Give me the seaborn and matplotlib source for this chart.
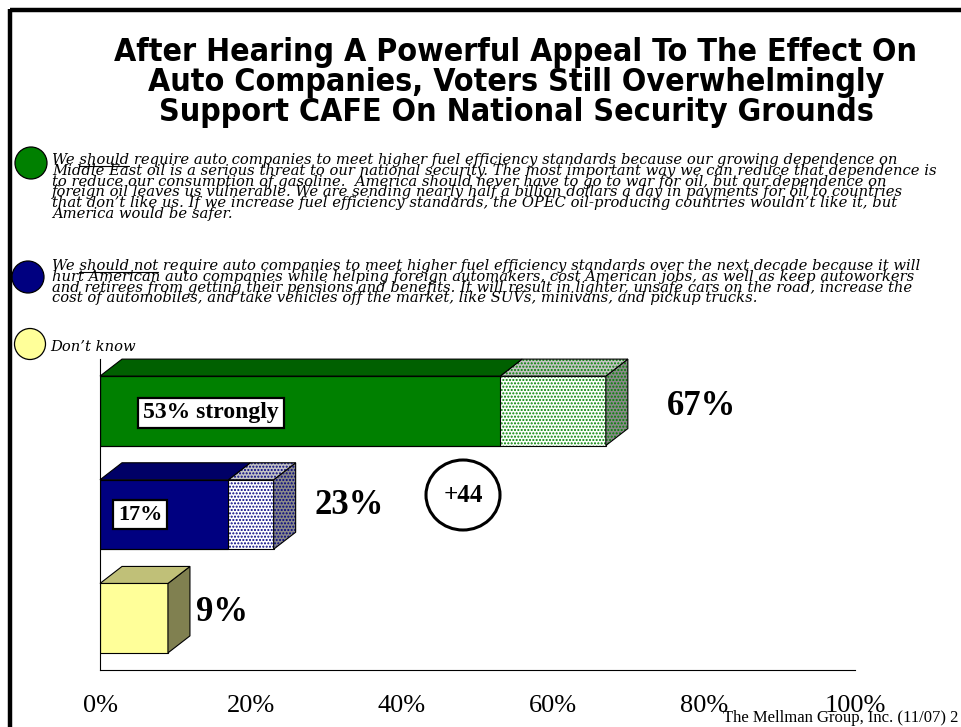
import matplotlib
matplotlib.use("Agg")
import matplotlib.pyplot as plt
import seaborn as sns
import pandas as pd
import numpy as np
from matplotlib.patches import Polygon, Rectangle, Ellipse
from matplotlib.lines import Line2D
from matplotlib.font_manager import FontProperties

# ---------------- data ----------------
categories = ["Should", "Should not", "Don't know"]
total_pct = [67, 23, 9]
strong_pct = [53, 17, np.nan]
value_labels = ["67%", "23%", "9%"]
strong_labels = ["53% strongly", "17%"]
margin_label = "+44"
x_ticks = [0, 20, 40, 60, 80, 100]
x_tick_labels = ["0%", "20%", "40%", "60%", "80%", "100%"]

title_lines = [
    "After Hearing A Powerful Appeal To The Effect On",
    "Auto Companies, Voters Still Overwhelmingly",
    "Support CAFE On National Security Grounds",
]
para1 = [
    "We should require auto companies to meet higher fuel efficiency standards because our growing dependence on",
    "Middle East oil is a serious threat to our national security. The most important way we can reduce that dependence is",
    "to reduce our consumption of gasoline.  America should never have to go to war for oil, but our dependence on",
    "foreign oil leaves us vulnerable. We are sending nearly half a billion dollars a day in payments for oil to countries",
    "that don\u2019t like us. If we increase fuel efficiency standards, the OPEC oil-producing countries wouldn\u2019t like it, but",
    "America would be safer.",
]
para2 = [
    "We should not require auto companies to meet higher fuel efficiency standards over the next decade because it will",
    "hurt American auto companies while helping foreign automakers, cost American jobs, as well as keep autoworkers",
    "and retirees from getting their pensions and benefits. It will result in lighter, unsafe cars on the road, increase the",
    "cost of automobiles, and take vehicles off the market, like SUVs, minivans, and pickup trucks.",
]
dont_know_text = "Don\u2019t know"
underlined = ["should", "should not"]
footer = "The Mellman Group, Inc. (11/07) 2"

# ---------------- style ----------------
solid_colors = ["#008000", "#000080", "#FFFF99"]
solid_top = ["#006000", "#000066", "#C0C078"]
solid_side = ["#004800", "#00004C", "#808050"]
dot_colors = ["#008000", "#000080"]
legend_colors = ["#008000", "#000080", "#FFFF99"]

W, H = 962, 727
sns.set_style("white")
plt.rcParams.update({
    "text.color": "black",
    "axes.labelcolor": "black",
    "xtick.color": "black",
    "ytick.color": "black",
    "hatch.linewidth": 1.0,
})
fig = plt.figure(figsize=(W / 100, H / 100), dpi=100)
fig.patch.set_facecolor("white")
renderer = fig.canvas.get_renderer()


def fx(x):
    return x / W


def fy(y):
    return 1 - y / H


def text_width(s, prop):
    w, h, d = renderer.get_text_width_height_descent(s, prop, ismath=False)
    return w


# page border (top and left)
fig.add_artist(Line2D([fx(10), 1.0], [fy(10), fy(10)], transform=fig.transFigure,
                      color="black", lw=3.2, solid_capstyle="butt"))
fig.add_artist(Line2D([fx(10), fx(10)], [fy(8.5), 0.0], transform=fig.transFigure,
                      color="black", lw=3.2, solid_capstyle="butt"))

# title
tprop = FontProperties(family="DejaVu Sans", weight="bold", stretch="condensed", size=10)
tsize = 10 * 803 / text_width(title_lines[0], tprop)
for i, line in enumerate(title_lines):
    fig.text(fx(516), fy(53 + i * 29.5), line, ha="center", va="center",
             fontfamily="DejaVu Sans", fontweight="bold", fontstretch="condensed",
             fontsize=tsize, color="black")

# body paragraphs
BODY_FONT = "DejaVu Serif"
bprop = FontProperties(family=BODY_FONT, style="italic", size=10)
bsize = 10 * 881 / text_width(para1[1], bprop)
x_text = 52
line_gap = 10.8


def draw_para(lines, y0, word):
    for i, line in enumerate(lines):
        y = y0 + i * line_gap
        fig.text(fx(x_text), fy(y), line, ha="left", va="baseline",
                 fontfamily=BODY_FONT, fontstyle="italic", fontsize=bsize)
        if i == 0:
            t_pre = fig.text(fx(x_text), fy(y), "We " + word, ha="left", va="baseline",
                             fontfamily=BODY_FONT, fontstyle="italic", fontsize=bsize,
                             alpha=0)
            t_word = fig.text(fx(x_text), fy(y), word, ha="left", va="baseline",
                              fontfamily=BODY_FONT, fontstyle="italic", fontsize=bsize,
                              alpha=0)
            e_pre = t_pre.get_window_extent(renderer)
            e_word = t_word.get_window_extent(renderer)
            t_pre.remove()
            t_word.remove()
            x1 = e_pre.x1
            x0 = x1 - e_word.width
            fig.add_artist(Line2D([x0 / W, x1 / W], [fy(y + 1.8), fy(y + 1.8)],
                                  transform=fig.transFigure, color="black", lw=0.8))


draw_para(para1, 164, underlined[0])
draw_para(para2, 270, underlined[1])
fig.text(fx(50), fy(351), dont_know_text, ha="left", va="baseline",
         fontfamily=BODY_FONT, fontstyle="italic", fontsize=bsize)

# legend circles
for (cx, cy, r), col in zip([(31, 163, 16), (28, 277, 16), (30, 344, 15.5)], legend_colors):
    fig.add_artist(Ellipse((fx(cx), fy(cy)), width=2 * r / W, height=2 * r / H,
                           transform=fig.transFigure, facecolor=col,
                           edgecolor="black", lw=0.9))

# footer
fig.text(fx(958), fy(722), footer, ha="right", va="baseline",
         fontfamily="Liberation Serif", fontsize=12)

# ---------------- chart ----------------
ax = fig.add_axes([fx(100), fy(670), 755 / W, 311 / H])
df = pd.DataFrame({"category": categories, "total": total_pct, "strong": strong_pct})
bar_h = 0.67

n0 = len(ax.patches)
sns.barplot(data=df, x="total", y="category", order=categories, orient="h",
            width=bar_h, color="white", ax=ax, errorbar=None)
total_patches = ax.patches[n0:]
n1 = len(ax.patches)
sns.barplot(data=df.dropna(), x="strong", y="category", order=categories, orient="h",
            width=bar_h, color="white", ax=ax, errorbar=None)
strong_patches = ax.patches[n1:]

ax.set_xlim(0, 100)
ax.set_ylim(2.5, -0.5)

# depth in data units
px_per_x = 755 / 100
px_per_y = 311 / 3
dx = 22 / px_per_x
dy = 17 / px_per_y

outline = dict(edgecolor="black", lw=0.8)

for i, p in enumerate(total_patches):
    x1 = p.get_x() + p.get_width()
    yt = p.get_y()
    yb = p.get_y() + p.get_height()
    dotted = i < 2
    if dotted:
        p.set_facecolor("#FAFFFA" if i == 0 else "white")
        p.set_edgecolor(dot_colors[i])
        p.set_hatch(".....")
        p.set_linewidth(0)
        ax.add_patch(Rectangle((p.get_x(), yt), p.get_width(), p.get_height(),
                               fill=False, **outline))
    else:
        p.set_facecolor(solid_colors[i])
        p.set_edgecolor("black")
        p.set_linewidth(0.8)
    side = [(x1, yt), (x1 + dx, yt - dy), (x1 + dx, yb - dy), (x1, yb)]
    if dotted:
        ax.add_patch(Polygon(side, closed=True, facecolor="#8A8A8A",
                             edgecolor=dot_colors[i], hatch=".....", lw=0, clip_on=False))
        ax.add_patch(Polygon(side, closed=True, fill=False, clip_on=False, **outline))
        x0 = strong_pct[i]
        top = [(x0, yt), (x1, yt), (x1 + dx, yt - dy), (x0 + dx, yt - dy)]
        ax.add_patch(Polygon(top, closed=True, facecolor="#C4C4C4",
                             edgecolor=dot_colors[i], hatch=".....", lw=0, clip_on=False))
        ax.add_patch(Polygon(top, closed=True, fill=False, clip_on=False, **outline))
    else:
        ax.add_patch(Polygon(side, closed=True, facecolor=solid_side[i],
                             clip_on=False, **outline))
        top = [(0, yt), (x1, yt), (x1 + dx, yt - dy), (dx, yt - dy)]
        ax.add_patch(Polygon(top, closed=True, facecolor=solid_top[i],
                             clip_on=False, **outline))

for p in strong_patches:
    i = int(round(p.get_y() + p.get_height() / 2))
    x1 = p.get_x() + p.get_width()
    yt = p.get_y()
    p.set_facecolor(solid_colors[i])
    p.set_edgecolor("black")
    p.set_linewidth(0.8)
    top = [(0, yt), (x1, yt), (x1 + dx, yt - dy), (dx, yt - dy)]
    ax.add_patch(Polygon(top, closed=True, facecolor=solid_top[i],
                         clip_on=False, **outline))

# value labels
label_offsets = [(61, 4), (41, 9.5), (28, 6)]
for i, (lab, off) in enumerate(zip(value_labels, label_offsets)):
    ax.annotate(lab, xy=(total_pct[i], i), xytext=off, textcoords="offset pixels",
                ha="left", va="center", fontfamily="Liberation Serif",
                fontweight="bold", fontsize=25, color="black", annotation_clip=False)

# strongly labels
strong_offsets = [(111, -2), (40, 0)]
strong_sizes = [17, 16]
for i, (lab, off) in enumerate(zip(strong_labels, strong_offsets)):
    ax.annotate(lab, xy=(0, i), xytext=off, textcoords="offset pixels",
                ha="center", va="center", fontfamily="Liberation Serif",
                fontweight="bold", fontsize=strong_sizes[i], color="black",
                bbox=dict(boxstyle="square,pad=0.2", fc="white", ec="black", lw=1.6))

# margin circle
cx = (463 - 100) / px_per_x
cy = (495 - 359) / px_per_y - 0.5
ax.add_patch(Ellipse((cx, cy), width=74 / px_per_x, height=70 / px_per_y,
                     facecolor="white", edgecolor="black", lw=2.2, clip_on=False))
ax.text(cx, cy, margin_label, ha="center", va="center", fontfamily="Liberation Serif",
        fontweight="bold", fontsize=18, color="black")

# axes styling
for s in ["top", "right"]:
    ax.spines[s].set_visible(False)
for s in ["left", "bottom"]:
    ax.spines[s].set_color("black")
    ax.spines[s].set_linewidth(0.8)
ax.set_xticks(x_ticks)
ax.set_xticklabels(x_tick_labels, fontfamily="Liberation Serif", fontsize=19, color="black")
ax.set_yticks([-0.5, 0.5, 1.5, 2.5])
ax.set_yticklabels([])
ax.tick_params(axis="both", direction="out", length=5, width=0.8, color="black")
ax.tick_params(axis="x", pad=13)
ax.set_xlabel("")
ax.set_ylabel("")
ax.patch.set_alpha(0)

fig.savefig("out.png", dpi=100, facecolor="white")
